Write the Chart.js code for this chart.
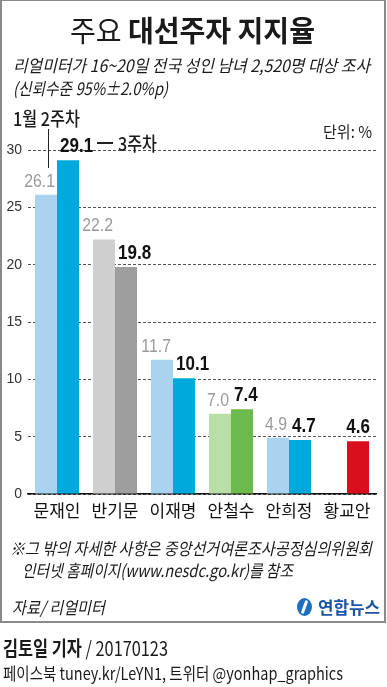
<!DOCTYPE html>
<html>
<head>
<meta charset="utf-8">
<script src="https://cdn.jsdelivr.net/npm/chart.js@4/dist/chart.umd.min.js"></script>
<style>
  html, body { margin: 0; padding: 0; background: #fff; }
  #wrap { position: relative; width: 387px; height: 687px; overflow: hidden; background: #fff; }
  #frame { position: absolute; left: 0; top: -1px; width: 386px; height: 624px; box-sizing: border-box; border: 2px solid #8a8a8a; }
  canvas { position: absolute; left: 0; top: 0; }
  .t { position: absolute; white-space: nowrap; font-family: "Noto Sans CJK KR", "Noto Sans", sans-serif; color: #1a1a1a; transform-origin: left center; }
  .it { font-style: italic; }
  .ln { position: absolute; background: #222; }
</style>
</head>
<body>
<div id="wrap">
  <div id="frame"></div>
  <canvas id="c" width="387" height="687"></canvas>

  <div class="t" data-x="70" data-cy="30" data-w="245" data-s="29"><span style="font-weight:400">주요 </span><span style="font-weight:700">대선주자 지지율</span></div>
  <div class="t it" data-x="13" data-cy="65" data-w="357" data-s="17">리얼미터가 16~20일 전국 성인 남녀 2,520명 대상 조사</div>
  <div class="t it" data-x="13" data-cy="88" data-w="155" data-s="17">(신뢰수준 95%±2.0%p)</div>

  <div class="t" data-x="13" data-cy="118" data-w="67" data-s="19" style="font-weight:500">1월 2주차</div>
  <div class="ln" style="left:48px; top:129px; width:1px; height:39px;"></div>
  <div class="ln" style="left:97px; top:142px; width:16px; height:1.5px;"></div>
  <div class="t" data-x="118" data-cy="143" data-w="39" data-s="19" style="font-weight:500">3주차</div>

  <div class="t" data-x="323" data-cy="131" data-w="49" data-s="16">단위: %</div>

  <div class="t it" data-x="10" data-cy="548" data-w="362" data-s="17">※그 밖의 자세한 사항은 중앙선거여론조사공정심의위원회</div>
  <div class="t it" data-x="22" data-cy="570" data-w="271" data-s="17">인터넷 홈페이지(www.nesdc.go.kr)를 참조</div>
  <div class="t it" data-x="12" data-cy="607" data-w="93" data-s="17">자료/ 리얼미터</div>

  <div style="position:absolute; left:297px; top:598px; width:15px; height:18px; border-radius:50%; background:#1e6fc0;"></div>
  <div style="position:absolute; left:303px; top:600px; width:3px; height:14px; background:#fff; transform:rotate(20deg); border-radius:2px;"></div>
  <div class="t" data-x="318" data-cy="607" data-w="62" data-s="17" style="font-weight:700; color:#1d55a5">연합뉴스</div>

  <div class="t" data-x="3" data-cy="648" data-w="165" data-s="20"><span style="font-weight:700">김토일 기자</span><span style="font-weight:400"> / 20170123</span></div>
  <div class="t" data-x="3" data-cy="673" data-w="340" data-s="17">페이스북 tuney.kr/LeYN1, 트위터 @yonhap_graphics</div>
</div>

<script>
// ---- data ----
const categories = ['문재인', '반기문', '이재명', '안철수', '안희정', '황교안'];
const week2 = [26.1, 22.2, 11.7, 7.0, 4.9, null];   // 1월 2주차
const week3 = [29.1, 19.8, 10.1, 7.4, 4.7, 4.6];    // 3주차
const yTicks = [0, 5, 10, 15, 20, 25, 30];

const lightColors = ['#a9d3ef', '#cfcfcf', '#a9d3ef', '#b9dea8', '#a9d3ef', '#a9d3ef'];
const darkColors  = ['#00a9dc', '#9e9e9e', '#00a9dc', '#6cba4e', '#00a9dc', '#d90f1e'];

// ---- text fitting ----
document.querySelectorAll('.t').forEach(el => {
  const s = +el.dataset.s;
  el.style.fontSize = s + 'px';
  el.style.lineHeight = (s * 1.3) + 'px';
  el.style.height = (s * 1.3) + 'px';
  el.style.left = el.dataset.x + 'px';
  el.style.top = (+el.dataset.cy - s * 0.65) + 'px';
  const w = el.getBoundingClientRect().width;
  const target = +el.dataset.w;
  if (w > 0) el.style.transform = 'scaleX(' + (target / w) + ')';
});

// ---- value labels ----
const NUM_FONT = '"Liberation Sans Narrow", "Liberation Sans", Arial, sans-serif';
const labelPlugin = {
  id: 'valueLabels',
  afterDatasetsDraw(chart) {
    const ctx = chart.ctx;
    const m0 = chart.getDatasetMeta(0);
    const m1 = chart.getDatasetMeta(1);
    ctx.save();
    ctx.textBaseline = 'alphabetic';
    categories.forEach((c, i) => {
      const hasLight = week2[i] !== null && week2[i] !== undefined;
      if (hasLight) {
        const b = m0.data[i];
        const txt = week2[i].toFixed(1);
        ctx.font = '18px ' + NUM_FONT;
        ctx.fillStyle = '#9a9a9a';
        const sx = 0.88;
        const w = ctx.measureText(txt).width * sx;
        const right = b.x + b.width / 2 - 2;
        ctx.save();
        ctx.translate(right - w, b.y - 8);
        ctx.scale(sx, 1);
        ctx.fillText(txt, 0, 0);
        ctx.restore();
      }
      if (week3[i] !== null) {
        const b = m1.data[i];
        const txt = week3[i].toFixed(1);
        ctx.font = 'bold 20px ' + NUM_FONT;
        ctx.fillStyle = '#111';
        const sx = 0.85;
        const w = ctx.measureText(txt).width * sx;
        const left = hasLight ? (b.x - b.width / 2 + 3) : (b.x - w / 2);
        ctx.save();
        ctx.translate(left, b.y - 8);
        ctx.scale(sx, 1);
        ctx.fillText(txt, 0, 0);
        ctx.restore();
      }
    });
    ctx.restore();
  }
};

new Chart(document.getElementById('c'), {
  type: 'bar',
  data: {
    labels: categories,
    datasets: [
      { label: '1월 2주차', data: week2, backgroundColor: lightColors, categoryPercentage: 0.76, barPercentage: 1.0, borderWidth: 0 },
      { label: '3주차', data: week3, backgroundColor: darkColors, categoryPercentage: 0.76, barPercentage: 1.0, borderWidth: 0 }
    ]
  },
  options: {
    responsive: false,
    devicePixelRatio: 1,
    animation: false,
    events: [],
    layout: { padding: { top: 150, right: 11, bottom: 153, left: 0 } },
    plugins: { legend: { display: false }, tooltip: { enabled: false } },
    scales: {
      x: {
        grid: { display: false, drawTicks: false },
        border: { display: true, color: '#111', width: 1.5 },
        ticks: { color: '#111', padding: 6, font: { family: '"Noto Sans CJK KR", sans-serif', size: 17 } },
        afterFit: s => { s.height = 40; }
      },
      y: {
        min: 0, max: 30,
        afterBuildTicks: s => { s.ticks = yTicks.map(v => ({ value: v })); },
        grid: { color: '#555', lineWidth: 1, drawTicks: false },
        border: { display: false, dash: [3, 2] },
        ticks: { color: '#333', padding: 6, font: { family: NUM_FONT, size: 14 } },
        afterFit: s => { s.width = 28; }
      }
    }
  },
  plugins: [labelPlugin]
});
</script>
</body>
</html>
